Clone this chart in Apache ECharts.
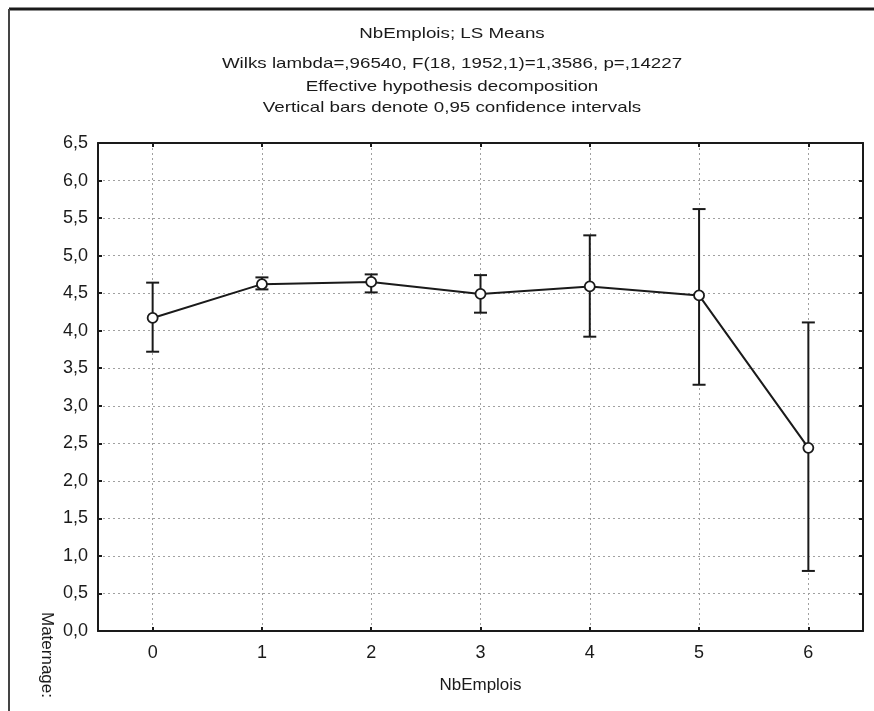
<!DOCTYPE html>
<html>
<head>
<meta charset="utf-8">
<script src="https://cdn.jsdelivr.net/npm/echarts@6/dist/echarts.min.js"></script>
<style>
  html, body { margin: 0; padding: 0; background: #fff; }
  #chart { width: 874px; height: 711px; }
</style>
</head>
<body>
<div id="chart"></div>
<script>
// données
const categories = [0, 1, 2, 3, 4, 5, 6]
const means = [4.17, 4.62, 4.65, 4.49, 4.59, 4.47, 2.44]
const lower = [3.72, 4.55, 4.51, 4.24, 3.92, 3.28, 0.80]
const upper = [4.64, 4.71, 4.75, 4.74, 5.27, 5.62, 4.11]

const titleLines = [
    "NbEmplois; LS Means",
    "Wilks lambda=,96540, F(18, 1952,1)=1,3586, p=,14227",
    "Effective hypothesis decomposition",
    "Vertical bars denote 0,95 confidence intervals"
]
const titleRows = [34, 64, 87, 108]

const ink = "#1a1a1a"
const font = "Liberation Sans"
const fmtComma = (v) => v.toFixed(1).replace(".", ",")

const chart = echarts.init(document.getElementById("chart"), null, { renderer: "canvas" })

const gridLine = { show: true, lineStyle: { color: "#a0a0a0", type: [2, 3], width: 1 } }

const xBase = {
    type: "value",
    min: -0.5,
    max: 6.5,
    axisLine: { show: true, onZero: false, lineStyle: { color: ink, width: 2 } },
    axisTick: { show: true, inside: true, length: 4, customValues: categories, lineStyle: { color: ink, width: 2 } }
}

const yBase = {
    type: "value",
    min: 0,
    max: 6.5,
    interval: 0.5,
    axisLine: { show: true, onZero: false, lineStyle: { color: ink, width: 2 } },
    axisTick: { show: true, inside: true, length: 4, lineStyle: { color: ink, width: 2 } }
}

// barres verticales avec petits chapeaux
const errorBars = (params, api) => {
    const x = api.value(0)
    const lo = api.coord([x, api.value(1)])
    const hi = api.coord([x, api.value(2)])
    const half = 6.5
    const style = { stroke: ink, lineWidth: 2 }
    return {
        type: "group",
        children: [
            { type: "line", shape: { x1: lo[0], y1: lo[1], x2: hi[0], y2: hi[1] }, style: style },
            { type: "line", shape: { x1: lo[0] - half, y1: lo[1], x2: lo[0] + half, y2: lo[1] }, style: style },
            { type: "line", shape: { x1: hi[0] - half, y1: hi[1], x2: hi[0] + half, y2: hi[1] }, style: style }
        ]
    }
}

// titre en texte étiré (comme le scan d'origine)
const titleTexts = titleLines.map((line, i) => ({
    type: "text",
    x: 452,
    y: titleRows[i],
    scaleX: 1.25,
    style: { text: line, font: "15px " + font, fill: ink, align: "center", verticalAlign: "middle" }
}))

const option = {
    backgroundColor: "#fff",
    animation: false,
    textStyle: { fontFamily: font },
    grid: { left: 98, right: 11, top: 143, bottom: 80 },
    xAxis: [
        Object.assign({}, xBase, {
            position: "bottom",
            name: "NbEmplois",
            nameLocation: "middle",
            nameGap: 46,
            nameTextStyle: { fontFamily: font, fontSize: 17, color: ink },
            axisLabel: { customValues: categories, margin: 13, fontSize: 18, color: ink, fontFamily: font },
            splitLine: gridLine
        }),
        Object.assign({}, xBase, {
            position: "top",
            axisLabel: { show: false },
            splitLine: { show: false }
        })
    ],
    yAxis: [
        Object.assign({}, yBase, {
            position: "left",
            axisLabel: { margin: 10, fontSize: 18, color: ink, fontFamily: font, formatter: fmtComma },
            splitLine: gridLine
        }),
        Object.assign({}, yBase, {
            position: "right",
            axisLabel: { show: false },
            splitLine: { show: false }
        })
    ],
    graphic: [
        { type: "line", shape: { x1: 9, y1: 9, x2: 874, y2: 9 }, style: { stroke: ink, lineWidth: 3 } },
        { type: "line", shape: { x1: 9, y1: 9, x2: 9, y2: 711 }, style: { stroke: "#444", lineWidth: 2 } },
        {
            type: "text",
            x: 55,
            y: 612,
            rotation: -Math.PI / 2,
            style: { text: "Maternage:", font: "17px " + font, fill: ink }
        }
    ].concat(titleTexts),
    series: [
        {
            type: "custom",
            xAxisIndex: 0,
            yAxisIndex: 0,
            renderItem: errorBars,
            data: categories.map((c, i) => [c, lower[i], upper[i]]),
            z: 2
        },
        {
            type: "line",
            xAxisIndex: 0,
            yAxisIndex: 0,
            data: categories.map((c, i) => [c, means[i]]),
            symbol: "circle",
            symbolSize: 10,
            lineStyle: { color: ink, width: 2 },
            itemStyle: { color: "#fff", borderColor: ink, borderWidth: 1.8 },
            z: 3
        }
    ]
}

chart.setOption(option)
</script>
</body>
</html>
